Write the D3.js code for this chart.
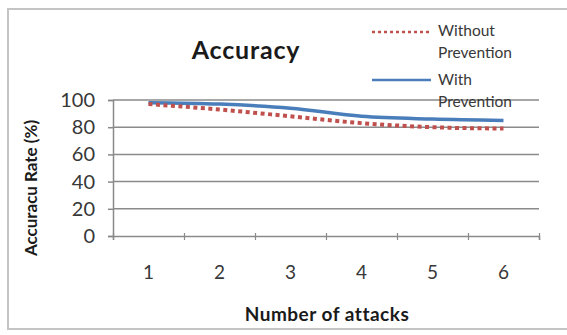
<!DOCTYPE html>
<html>
<head>
<meta charset="utf-8">
<script src="https://cdn.jsdelivr.net/npm/d3@7"></script>
<style>
  html, body { margin: 0; padding: 0; background: #fff; }
  svg { display: block; }
  text { font-family: Lato, "Open Sans", sans-serif; }
</style>
</head>
<body>
<svg id="chart" width="567" height="335"></svg>
<script>
// Accuracy rate by number of attacks
const categories = ["1", "2", "3", "4", "5", "6"];
const withoutPrevention = [97, 93, 88, 83, 80, 79];
const withPrevention = [98, 97, 94, 88, 86, 85];
const yTicks = [0, 20, 40, 60, 80, 100];
const seriesNames = [["Without", "Prevention"], ["With", "Prevention"]];

const svg = d3.select("#chart");
const W = 567, H = 335;
const plot = { left: 113, right: 539, top: 100, bottom: 236 };

// outer chart frame
svg.append("rect")
  .attr("x", 8).attr("y", 9).attr("width", W + 10).attr("height", 320)
  .attr("fill", "#fff").attr("stroke", "#c4c4c4").attr("stroke-width", 2);

const x = d3.scaleBand().domain(categories).range([plot.left, plot.right]);
const xEdge = d3.scaleLinear().domain([0, categories.length]).range([plot.left, plot.right]);
const y = d3.scaleLinear().domain([0, 100]).range([plot.bottom, plot.top]);

// horizontal gridlines
svg.append("g").selectAll("line").data(yTicks.filter(d => d > 0)).join("line")
  .attr("x1", plot.left).attr("x2", plot.right)
  .attr("y1", d => y(d)).attr("y2", d => y(d))
  .attr("stroke", "#8a8a8a").attr("stroke-width", 1.5);

// y axis
const yAxis = svg.append("g")
  .attr("transform", `translate(${plot.left},0)`)
  .call(d3.axisLeft(y).tickValues(yTicks).tickSize(5).tickPadding(13));
yAxis.select(".domain").attr("stroke", "#8a8a8a").attr("stroke-width", 1.5);
yAxis.selectAll(".tick line").attr("stroke", "#8a8a8a").attr("stroke-width", 1.5);
yAxis.selectAll(".tick text")
  .attr("fill", "#383838").style("font-size", "20px")
  .style("font-family", "Lato, 'Open Sans', sans-serif");

// x axis line and category boundary ticks
const xAxis = svg.append("g")
  .attr("transform", `translate(0,${plot.bottom})`)
  .call(d3.axisBottom(xEdge).ticks(categories.length).tickSize(4).tickFormat(""));
xAxis.select(".domain").attr("stroke", "#8a8a8a").attr("stroke-width", 1.5);
xAxis.selectAll(".tick line").attr("stroke", "#8a8a8a").attr("stroke-width", 1.2).attr("y1", -3);

// category labels
svg.append("g").selectAll("text").data(categories).join("text")
  .attr("x", d => x(d) + x.bandwidth() / 2)
  .attr("y", 279)
  .attr("text-anchor", "middle")
  .attr("fill", "#383838")
  .style("font-size", "19px")
  .text(d => d);

// series lines
const line = d3.line()
  .x((d, i) => x(categories[i]) + x.bandwidth() / 2)
  .y(d => y(d))
  .curve(d3.curveMonotoneX);

svg.append("path").datum(withPrevention)
  .attr("d", line).attr("fill", "none")
  .attr("stroke", "#4a7ebb").attr("stroke-width", 3.5);

svg.append("path").datum(withoutPrevention)
  .attr("d", line).attr("fill", "none")
  .attr("stroke", "#c0504d").attr("stroke-width", 4)
  .attr("stroke-dasharray", "4,3.5");

// title
svg.append("text")
  .attr("x", 246).attr("y", 59)
  .attr("text-anchor", "middle")
  .attr("fill", "#1a1a1a")
  .style("font-size", "25px").style("font-weight", "bold")
  .style("letter-spacing", "0.8px")
  .text("Accuracy");

// axis titles
svg.append("text")
  .attr("x", 327).attr("y", 321)
  .attr("text-anchor", "middle")
  .attr("fill", "#1a1a1a")
  .style("font-size", "19px").style("font-weight", "bold")
  .style("letter-spacing", "0.5px")
  .text("Number of attacks");

svg.append("text")
  .attr("transform", "translate(37,188) rotate(-90)")
  .attr("text-anchor", "middle")
  .attr("fill", "#1a1a1a")
  .style("font-size", "17px").style("font-weight", "bold")
  .text("Accuracu Rate (%)");

// legend
const legend = svg.append("g");
const legendItems = [
  { names: seriesNames[0], color: "#c0504d", dash: "3,3", width: 2.5, ly: 32, ty: 36 },
  { names: seriesNames[1], color: "#4a7ebb", dash: null, width: 2.5, ly: 80, ty: 85 }
];
legendItems.forEach(item => {
  legend.append("line")
    .attr("x1", 372).attr("x2", 431)
    .attr("y1", item.ly).attr("y2", item.ly)
    .attr("stroke", item.color).attr("stroke-width", item.width)
    .attr("stroke-dasharray", item.dash);
  legend.append("text")
    .attr("x", 438).attr("y", item.ty)
    .attr("fill", "#383838")
    .style("font-size", "15.5px")
    .selectAll("tspan").data(item.names).join("tspan")
    .attr("x", 438).attr("dy", (d, i) => i === 0 ? 0 : 22)
    .text(d => d);
});
</script>
</body>
</html>
